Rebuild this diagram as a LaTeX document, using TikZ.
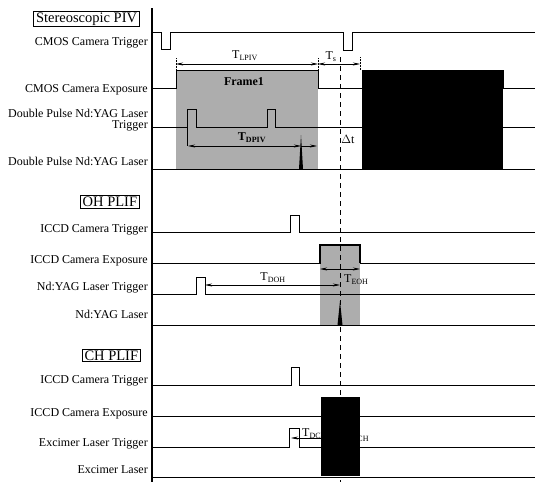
\documentclass[tikz,border=0pt]{standalone}
\usepackage{fontspec}
\setmainfont{Liberation Serif}
\usetikzlibrary{arrows.meta}

\begin{document}
\begin{tikzpicture}[
  x=1pt, y=-1pt,
  sig/.style={line width=0.9pt, line join=miter},
  dimarrow/.style={{Stealth[length=7pt,width=3pt]}-{Stealth[length=7pt,width=3pt]}, line width=0.6pt},
  rarrow/.style={-{Stealth[length=7pt,width=3pt]}, line width=0.6pt},
  tick/.style={line width=0.5pt, densely dotted},
  chan/.style={anchor=base east, inner sep=0pt, font=\fontsize{12}{11}\selectfont},
  title/.style={draw, line width=0.8pt, inner xsep=2.5pt, inner ysep=1.5pt, anchor=east,
                font=\fontsize{14.5}{15}\selectfont},
  tlab/.style={inner sep=0pt, font=\fontsize{12}{12}\selectfont},
  shade/.style={fill=black!32}
]
\useasboundingbox (0,0) rectangle (535,482);

% --- Stereoscopic PIV ---
\node[title] (piv) at (140,19) {Stereoscopic PIV};
\node[chan] (camtrig) at (148,45) {CMOS Camera Trigger};
\node[chan] (camexp) at (148,92) {CMOS Camera Exposure};
\node[chan, anchor=south east, align=right] (dptrig) at (148,131) {Double Pulse Nd:YAG Laser\\Trigger};
\node[chan] (dplaser) at (148,165) {Double Pulse Nd:YAG Laser};

\fill[shade] (176,70) rectangle (318,169);
\node[tlab, font=\fontsize{12}{12}\selectfont\bfseries] (frame1) at (244,82) {Frame1};

\draw[sig] (152,32) -- (161,32) -- (161,49) -- (170,49) -- (170,32) -- (343,32)
  -- (343,50) -- (352,50) -- (352,32) -- (535,32);
\draw[sig] (152,88) -- (176,88) -- (176,70) -- (318,70) -- (318,88) -- (362,88)
  -- (362,70) -- (503,70) -- (503,88) -- (535,88);
\draw[sig] (152,127.5) -- (187,127.5) -- (187,109) -- (196,109) -- (196,127.5) -- (267,127.5)
  -- (267,109) -- (275,109) -- (275,127.5) -- (535,127.5);
\draw[sig] (187,127.5) -- (187,146);
\draw[sig] (152,169) -- (535,169);
\fill (299,169) -- (301,135) -- (303,169) -- cycle;

\draw[tick] (176,58) -- (176,70);
\draw[tick] (318,58) -- (318,70);
\draw[tick] (360,57) -- (360,70);
\draw[dimarrow] (176,64) -- (318,64);
\draw[dimarrow] (318,64) -- (360,64);
\node[tlab] (tlpiv) at (245,56) {T\textsubscript{LPIV}};
\node[tlab] (ts) at (331,57) {T\textsubscript{s}};

\draw[dimarrow] (188,146) -- (301,146);
\draw[rarrow] (301,146) -- (317,146);
\node[tlab, font=\fontsize{12}{12}\selectfont\bfseries] (tdpiv) at (252,138) {T\textsubscript{DPIV}};
\node[tlab] (dt) at (348,139) {$\Delta$t};

% --- OH PLIF ---
\node[title] (oh) at (140,202) {OH PLIF};
\node[chan] (ohtrig) at (148,232) {ICCD Camera Trigger};
\node[chan] (ohexp) at (148,263) {ICCD Camera Exposure};
\node[chan] (ndtrig) at (148,290) {Nd:YAG Laser Trigger};
\node[chan] (ndlaser) at (148,318) {Nd:YAG Laser};

\fill[shade] (320,245) rectangle (360,325);
\draw[sig] (152,232) -- (290,232) -- (290,215) -- (299,215) -- (299,232) -- (535,232);
\draw[sig] (152,263) -- (320,263) -- (320,245) -- (360,245) -- (360,263) -- (535,263);
\draw[line width=1.4pt] (320,263) -- (320,245) -- (360,245) -- (360,263);
\draw[sig] (152,294) -- (196,294) -- (196,277) -- (205,277) -- (205,294) -- (535,294);
\draw[sig] (152,325) -- (535,325);
\fill (337.5,325) -- (340,301) -- (342.5,325) -- cycle;

\draw[dimarrow] (320,269) -- (360,269);
\draw[dimarrow] (205,285) -- (340,285);
\node[tlab] (tdoh) at (273,278) {T\textsubscript{DOH}};
\node[tlab, anchor=west] (teoh) at (344,280) {T\textsubscript{EOH}};

% --- CH PLIF ---
\node[title] (ch) at (141,355.5) {CH PLIF};
\node[chan] (chtrig) at (148,383) {ICCD Camera Trigger};
\node[chan] (chexp) at (148,416) {ICCD Camera Exposure};
\node[chan] (extrig) at (148,446) {Excimer Laser Trigger};
\node[chan] (exlaser) at (148,473) {Excimer Laser};

\draw[sig] (152,385) -- (291,385) -- (291,367) -- (299,367) -- (299,385) -- (535,385);
\draw[sig] (152,416) -- (535,416);
\draw[sig] (152,447) -- (289,447) -- (289,428) -- (299,428) -- (299,447) -- (535,447);
\draw[sig] (152,477) -- (535,477);
\draw[dimarrow] (291,438) -- (340,438);
\node[tlab, anchor=west] (tdch) at (302,434) {T\textsubscript{DCH}};
\node[tlab, anchor=west] (tech) at (345,437) {T\textsubscript{ECH}};

% time axis and reference line
\draw[line width=1.5pt] (152,8) -- (152,482);
\draw[line width=0.8pt, dash pattern=on 5pt off 4pt] (340,57) -- (340,482);

% exposure frames on top
\fill (362,70) rectangle (503,169);
\fill (321,397) rectangle (360,476);

\end{tikzpicture}
\end{document}
